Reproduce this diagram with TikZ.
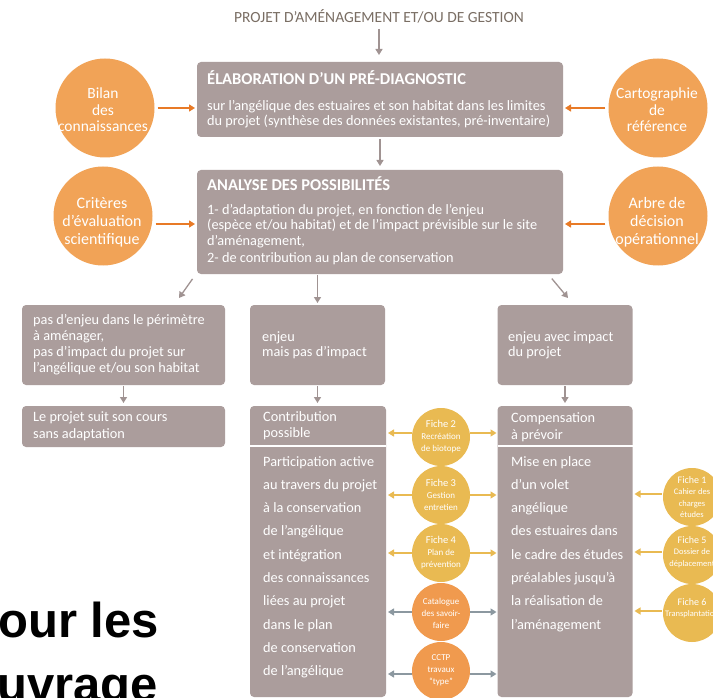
\documentclass[tikz,border=0pt]{standalone}
\usepackage{fontspec}
\setmainfont{Carlito}
\newfontfamily\bigsans{Liberation Sans}
\usetikzlibrary{arrows.meta}
\definecolor{taupe}{RGB}{171,157,156}
\definecolor{orangeA}{RGB}{241,163,87}
\definecolor{gold}{RGB}{233,186,82}
\definecolor{orangeB}{RGB}{240,154,78}
\definecolor{arrOr}{RGB}{232,122,38}
\definecolor{arrGray}{RGB}{160,147,146}
\definecolor{arrBlue}{RGB}{140,152,160}
\definecolor{titlec}{RGB}{122,110,100}
\begin{document}
\begin{tikzpicture}[x=1pt,y=-1pt,
  box/.style={fill=taupe, rounded corners=4pt, inner sep=0pt, outer sep=0pt},
  txt/.style={text=white, inner sep=0pt, anchor=base west, align=left},
  hd/.style={txt, font=\bfseries\fontsize{16.5}{18}\selectfont},
  bd/.style={txt, font=\fontsize{14.3}{#1}\selectfont},
  bigc/.style={circle, fill=orangeA, inner sep=0pt, minimum size=99pt},
  bigt/.style={text=white, inner sep=0pt, align=center},
  fic/.style={circle, fill=gold, inner sep=0pt, minimum size=58pt},
  ficb/.style={circle, fill=orangeB, inner sep=0pt, minimum size=58pt},
  ft/.style={text=white, inner sep=0pt, align=center, font=\fontsize{9}{12}\selectfont},
  arrbase/.style={line width=1.3pt, -{Triangle[width=7pt,length=6pt]}},
  arrG/.style={arrbase, draw=arrGray},
  arrO/.style={arrbase, draw=arrOr},
  arrY/.style={arrbase, draw=gold},
  arrB/.style={arrbase, draw=arrBlue}]
\useasboundingbox (0,0) rectangle (713,698);
\fill[white] (0,0) rectangle (713,698);

% title
\node[text=titlec, inner sep=0pt, font=\fontsize{15.5}{18}\selectfont] (title) at (379,16) {PROJET D’AMÉNAGEMENT ET/OU DE GESTION};

% box 1
\node[box, minimum width=366pt, minimum height=75pt] (b1) at (380,99.5) {};
\node[hd] (b1h) at (207,85) {ÉLABORATION D’UN PRÉ-DIAGNOSTIC};
\node[bd=15] (b1b) at (207,126) {sur l’angélique des estuaires et son habitat dans les limites\\du projet (synthèse des données existantes, pré-inventaire)};

% box 2
\node[box, minimum width=366pt, minimum height=104pt] (b2) at (380,222) {};
\node[hd] (b2h) at (207,191) {ANALYSE DES POSSIBILITÉS};
\node[bd=15.5] (b2b) at (207,262.5) {1- d’adaptation du projet, en fonction de l’enjeu\\(espèce et/ou habitat) et de l’impact prévisible sur le site\\d’aménagement,\\[2pt]2- de contribution au plan de conservation};

% big circles
\node[bigc] (bilan) at (105,108) {};
\node[bigt, font=\fontsize{15.5}{16.5}\selectfont] (bilant) at (103,110) {Bilan\\des\\connaissances};
\node[bigc] (carto) at (658,108) {};
\node[bigt, font=\fontsize{15.5}{16.5}\selectfont] (cartot) at (657,110) {Cartographie\\de\\référence};
\node[bigc] (crit) at (103,216) {};
\node[bigt, font=\fontsize{16}{18}\selectfont] (critt) at (102,222) {Critères\\d’évaluation\\scientifique};
\node[bigc] (arbre) at (658,216) {};
\node[bigt, font=\fontsize{16}{18}\selectfont] (arbret) at (657,222) {Arbre de\\décision\\opérationnel};

\draw[arrO, shorten <=3pt, shorten >=2pt] (bilan.east) -- (bilan.east -| b1.west);
\draw[arrO, shorten <=3pt, shorten >=2pt] (carto.west) -- (carto.west -| b1.east);
\draw[arrO, shorten <=3pt, shorten >=2pt] ([yshift=-8pt]crit.east) -- ([yshift=-8pt]crit.east -| b2.west);
\draw[arrO, shorten <=3pt, shorten >=2pt] ([yshift=-8pt]arbre.west) -- ([yshift=-8pt]arbre.west -| b2.east);

% main arrows
\draw[arrG, shorten <=6pt, shorten >=7pt] (title.south) -- (title.south |- b1.north);
\draw[arrG, shorten <=2pt, shorten >=4pt] (b1.south) -- (b1.south |- b2.north);

% second row boxes
\node[box, minimum width=203pt, minimum height=80pt] (bA) at (123.5,345) {};
\node[bd=16.3] (bAt) at (33,372.9) {pas d’enjeu dans le périmètre\\à aménager,\\pas d’impact du projet sur\\l’angélique et/ou son habitat};
\node[box, minimum width=135pt, minimum height=80pt] (bB) at (317.5,345) {};
\node[bd=15.5] (bBt) at (262,356.5) {enjeu\\mais pas d’impact};
\node[box, minimum width=135pt, minimum height=80pt] (bC) at (565,345) {};
\node[bd=15.5] (bCt) at (508,356.5) {enjeu avec impact\\du projet};

\coordinate (tA) at (179,298);
\coordinate (tC) at (568,298);
\draw[arrG, shorten <=6pt] ([xshift=-1pt]b2.south west) -- (tA);
\draw[arrG, shorten >=2pt, shorten <=1pt] (bB.north |- b2.south) -- (bB.north);
\draw[arrG, shorten <=6pt] ([xshift=-15pt]b2.south east) -- (tC);

% third row
\node[box, minimum width=203pt, minimum height=41pt] (bD) at (123.5,426.5) {};
\node[bd=17] (bDt) at (33,438) {Le projet suit son cours\\sans adaptation};

\node[box, minimum width=136pt, minimum height=291pt] (bE) at (318,551.5) {};
\node[box, minimum width=135pt, minimum height=291pt] (bF) at (565,551.5) {};
\draw[white, line width=1.6pt] ([yshift=-40pt]bE.north west) -- ([yshift=-40pt]bE.north east);
\draw[white, line width=1.6pt] ([yshift=-40pt]bF.north west) -- ([yshift=-40pt]bF.north east);

\node[bd=16.5] (bEh) at (263,437.5) {Contribution\\possible};
\node[bd=23.3] (bEt) at (263,675.7) {Participation active\\au travers du projet\\à la conservation\\de l’angélique\\et intégration\\des connaissances\\liées au projet\\dans le plan\\de conservation\\de l’angélique};
\node[bd=16.5] (bFh) at (511,439) {Compensation\\à prévoir};
\node[bd=23.3] (bFt) at (511,629.1) {Mise en place\\d’un volet\\angélique\\des estuaires dans\\le cadre des études\\préalables jusqu’à\\la réalisation de\\l’aménagement};

\draw[arrG, shorten <=1pt, shorten >=3pt] (bA.south) -- (bD.north);
\draw[arrG, shorten <=1pt, shorten >=3pt] (bB.south) -- (bB.south |- bE.north);
\draw[arrG, shorten <=1pt, shorten >=3pt] (bC.south) -- (bC.south |- bF.north);

% middle circles
\node[fic] (f2) at (441,437) {};
\node[ft] (f2t) at (441,437) {{\fontsize{10.5}{12}\selectfont Fiche 2}\\Recréation\\de biotope};
\node[fic] (f3) at (441,495) {};
\node[ft] (f3t) at (441,495) {{\fontsize{10.5}{12}\selectfont Fiche 3}\\Gestion\\entretien};
\node[fic] (f4) at (441,553) {};
\node[ft] (f4t) at (441,553) {{\fontsize{10.5}{12}\selectfont Fiche 4}\\Plan de\\prévention};
\node[ficb] (cat) at (441,612) {};
\node[ft] (catt) at (441,613) {Catalogue\\des savoir-\\faire};
\node[ficb] (cctp) at (441,671) {};
\node[ft] (cctpt) at (441,670) {CCTP\\travaux\\“type”};

\draw[arrY, shorten >=2pt] ([yshift=4pt]f2.west) -- ([yshift=4pt]f2.west -| bE.east);
\draw[arrY, shorten >=1pt] ([yshift=4pt]f2.east) -- ([yshift=4pt]f2.east -| bF.west);
\draw[arrY, shorten >=2pt] (f3.west) -- (f3.west -| bE.east);
\draw[arrY, shorten >=1pt] (f3.east) -- (f3.east -| bF.west);
\draw[arrY, shorten >=2pt] (f4.west) -- (f4.west -| bE.east);
\draw[arrY, shorten >=1pt] (f4.east) -- (f4.east -| bF.west);
\draw[arrB, shorten >=2pt] (cat.west) -- (cat.west -| bE.east);
\draw[arrB, shorten >=1pt] (cat.east) -- (cat.east -| bF.west);
\draw[arrB, shorten >=2pt] ([yshift=-3pt]cctp.west) -- ([yshift=-3pt]cctp.west -| bE.east);
\draw[arrB, shorten >=1pt] ([yshift=-3pt]cctp.east) -- ([yshift=-3pt]cctp.east -| bF.west);

% right circles
\node[fic] (r1) at (692,497) {};
\node[ft, font=\fontsize{8.5}{11.5}\selectfont] (r1t) at (692,497) {{\fontsize{10}{12}\selectfont Fiche 1}\\Cahier des\\charges\\études};
\node[fic] (r5) at (692,555) {};
\node[ft, font=\fontsize{8.5}{11.5}\selectfont] (r5t) at (692,552) {{\fontsize{10}{12}\selectfont Fiche 5}\\Dossier de\\déplacement};
\node[fic] (r6) at (692,613) {};
\node[ft, font=\fontsize{8.5}{11.5}\selectfont] (r6t) at (692,608) {{\fontsize{10}{12}\selectfont Fiche 6}\\Transplantation};

\draw[arrY, shorten <=1pt, shorten >=2pt] ([yshift=3pt]r1.west) -- ([yshift=3pt]r1.west -| bF.east);
\draw[arrY, shorten <=1pt, shorten >=2pt] ([yshift=3pt]r5.west) -- ([yshift=3pt]r5.west -| bF.east);
\draw[arrY, shorten <=1pt, shorten >=2pt] ([yshift=2pt]r6.west) -- ([yshift=2pt]r6.west -| bF.east);

% big text
\node[anchor=base west, inner sep=0pt, font=\bigsans\bfseries\fontsize{49}{60}\selectfont] (big1) at (-2,637) {our les};
\node[anchor=base west, inner sep=0pt, font=\bigsans\bfseries\fontsize{49}{60}\selectfont] (big2) at (-3,701) {uvrage};
\end{tikzpicture}
\end{document}
